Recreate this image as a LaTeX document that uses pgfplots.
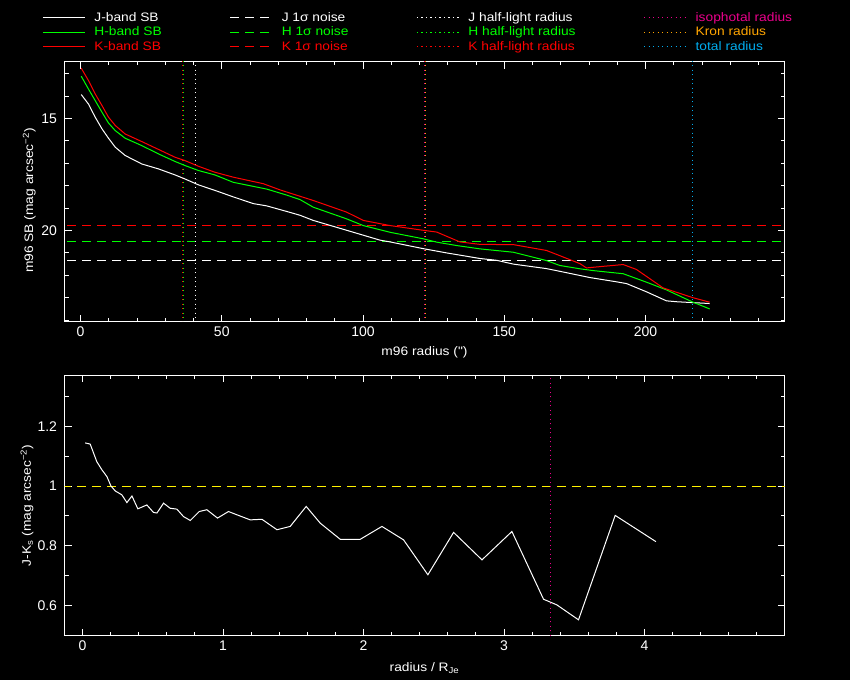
\documentclass[border=0pt]{standalone}
\usepackage{pgfplots}
\pgfplotsset{compat=1.18}
\usepackage{fontspec}
\setmainfont{Liberation Sans}
\newfontfamily\hfont[FakeStretch=1.12]{Liberation Sans}
\definecolor{pgorange}{RGB}{255,165,0}
\tikzset{
  jdash/.style={dash pattern=on 9pt off 6pt},
  jdot/.style={dash pattern=on 1.2pt off 3.3pt},
}
\pgfplotsset{
  pgstyle/.style={
    scale only axis, width=720pt, height=260pt,
    axis line style={white, line width=1pt},
    tick style={white, line width=1pt},
    major tick length=7pt, minor tick length=4pt,
    ticklabel style={white, font=\fontsize{14}{16}\selectfont},
    xticklabel style={yshift=-2pt},
    yticklabel style={xshift=-4pt},
    /pgf/number format/assume math mode=true,
    label style={white, font=\hfont\fontsize{12.3}{14}\selectfont},
    every axis plot/.append style={line width=1pt},
  },
  legend image code/.code={\draw[#1] (0pt,0pt) -- (42pt,0pt);},
}

\begin{document}
\begin{tikzpicture}
\path[use as bounding box, fill=black] (0,0) rectangle (850pt,680pt);

% top panel: surface brightness profiles
\begin{axis}[
    pgstyle,
    at={(64.5pt,358.5pt)}, anchor=south west,
    xmin=-5.664, xmax=249.2,
    ymin=12.455, ymax=24.0625, y dir=reverse,
    xtick={0,50,100,150,200},
    minor xtick={10,20,30,40,60,70,80,90,110,120,130,140,160,170,180,190,210,220,230,240},
    ytick={15,20},
    minor ytick={13,14,16,17,18,19,21,22,23,24},
    xlabel={m96 radius (")},
    ylabel={m96 SB (mag arcsec\textsuperscript{−2})},
    xlabel style={at={(axis description cs:0.5,-0.119)}, anchor=center},
    ylabel style={at={(axis description cs:-0.049,0.465)}, anchor=center},
    legend columns=4,
    legend cell align=left,
    legend style={at={(axis description cs:-0.031,1.197)}, anchor=north west,
        draw=none, fill=none, inner sep=0pt,
        font=\hfont\fontsize{12.3}{14}\selectfont,
        /tikz/every even column/.append style={column sep=66pt},
        /tikz/every odd column/.append style={column sep=7pt},
        row sep=0pt},
]
\addlegendimage{white, line width=1pt}
\addlegendentry{\textcolor{white}{J-band SB}}
\addlegendimage{white, jdash, line width=1pt}
\addlegendentry{\textcolor{white}{J 1σ noise}}
\addlegendimage{white, jdot, line width=1pt}
\addlegendentry{\textcolor{white}{J half-light radius}}
\addlegendimage{magenta, jdot, line width=1pt}
\addlegendentry{\textcolor{magenta}{isophotal radius}}
\addlegendimage{green, line width=1pt}
\addlegendentry{\textcolor{green}{H-band SB}}
\addlegendimage{green, jdash, line width=1pt}
\addlegendentry{\textcolor{green}{H 1σ noise}}
\addlegendimage{green, jdot, line width=1pt}
\addlegendentry{\textcolor{green}{H half-light radius}}
\addlegendimage{pgorange, jdot, line width=1pt}
\addlegendentry{\textcolor{pgorange}{Kron radius}}
\addlegendimage{red, line width=1pt}
\addlegendentry{\textcolor{red}{K-band SB}}
\addlegendimage{red, jdash, line width=1pt}
\addlegendentry{\textcolor{red}{K 1σ noise}}
\addlegendimage{red, jdot, line width=1pt}
\addlegendentry{\textcolor{red}{K half-light radius}}
\addlegendimage{cyan, jdot, line width=1pt}
\addlegendentry{\textcolor{cyan}{total radius}}

% 1 sigma noise levels
\addplot[white, jdash, forget plot] coordinates {(-10,21.339) (260,21.339)};
\addplot[green, jdash, forget plot] coordinates {(-10,20.491) (260,20.491)};
\addplot[red, jdash, forget plot] coordinates {(-10,19.777) (260,19.777)};

% radii
\addplot[white, jdot, forget plot] coordinates {(40.71,10) (40.71,26)};
\addplot[green, jdot, forget plot] coordinates {(36.46,10) (36.46,26)};
\addplot[red, jdot, forget plot] coordinates {(36.11,10) (36.11,26)};
\addplot[magenta, jdot, forget plot] coordinates {(121.77,10) (121.77,26)};
\addplot[pgorange, jdot, forget plot] coordinates {(122.12,10) (122.12,26)};
\addplot[cyan, jdot, forget plot] coordinates {(216.46,10) (216.46,26)};

% J band
\addplot[white, forget plot] coordinates {
(0.25,13.93)(2.8,14.35)(5.2,14.94)(7.6,15.46)(9.9,15.88)(12.3,16.28)
(15.8,16.65)(21.7,17.03)(27.6,17.25)(33.5,17.52)(37.0,17.70)(41.7,17.96)
(47.6,18.21)(54.1,18.50)(61.2,18.80)(65.9,18.90)
(73.0,19.15)(77.7,19.32)(82.4,19.55)(94.2,19.99)(106.0,20.43)(109.6,20.51)
(121.3,20.81)(129.6,21.00)(141.4,21.25)(147.3,21.33)(153.2,21.50)(164.9,21.70)
(169.6,21.82)(180.3,22.10)(189.7,22.29)(193.3,22.37)(200.4,22.74)(207.4,23.14)
(211.0,23.18)(222.7,23.26)};
% H band
\addplot[green, forget plot] coordinates {
(0.25,13.11)(2.8,13.68)(5.2,14.20)(7.6,14.72)(9.9,15.20)(12.3,15.54)
(15.8,15.88)(21.7,16.21)(27.6,16.58)(33.5,16.92)(37.0,17.10)(41.7,17.32)
(47.6,17.52)(54.1,17.85)(65.9,18.15)(73.0,18.42)
(77.7,18.62)(82.4,18.96)(94.2,19.48)(100.1,19.78)(109.6,20.08)(121.3,20.37)
(126.1,20.52)(133.1,20.67)(141.4,20.82)(153.2,20.97)(164.9,21.34)(169.6,21.56)
(176.8,21.71)(181.5,21.79)(192.1,21.93)(200.4,22.31)(207.4,22.65)(216.8,23.20)
(222.7,23.50)};
% K band
\addplot[red, forget plot] coordinates {
(0.25,12.75)(2.8,13.30)(5.2,13.90)(7.6,14.42)(9.9,14.94)(12.3,15.31)
(15.8,15.69)(21.7,16.03)(27.6,16.38)(33.5,16.73)(37.0,16.88)(41.7,17.13)
(47.6,17.40)(54.1,17.62)(64.7,17.91)(70.7,18.19)
(82.4,18.66)(94.2,19.18)(100.1,19.55)(109.6,19.78)(121.3,19.99)(126.1,20.07)
(134.3,20.51)(141.4,20.62)(153.2,20.63)(164.9,20.89)(169.6,21.12)(176.8,21.48)
(179.1,21.67)(185.0,21.60)(192.1,21.52)(196.8,21.74)(206.2,22.56)(216.8,23.00)
(222.7,23.20)};
\end{axis}

% bottom panel: J-Ks colour profile
\begin{axis}[
    pgstyle,
    at={(64.5pt,44.5pt)}, anchor=south west,
    xmin=-0.128, xmax=4.996,
    ymin=0.4994, ymax=1.371,
    xtick={0,1,2,3,4},
    minor xtick={0.2,0.4,0.6,0.8,1.2,1.4,1.6,1.8,2.2,2.4,2.6,2.8,3.2,3.4,3.6,3.8,4.2,4.4,4.6,4.8},
    ytick={0.6,0.8,1,1.2},
    minor ytick={0.7,0.9,1.1,1.3},
    xlabel={radius / R\textsubscript{Je}},
    ylabel={J-K\textsubscript{s} (mag arcsec\textsuperscript{−2})},
    xlabel style={at={(axis description cs:0.5,-0.125)}, anchor=center},
    ylabel style={at={(axis description cs:-0.052,0.5)}, anchor=center},
]
\addplot[yellow, jdash] coordinates {(-1,1) (6,1)};
\addplot[magenta, jdot] coordinates {(3.331,0) (3.331,2)};
\addplot[white] coordinates {
(0.019,1.145)(0.055,1.141)(0.102,1.082)(0.138,1.055)(0.174,1.032)(0.202,1.001)
(0.233,0.984)(0.280,0.971)(0.316,0.945)(0.352,0.967)(0.394,0.924)(0.458,0.937)
(0.505,0.912)(0.530,0.910)(0.577,0.943)(0.624,0.926)(0.672,0.923)(0.719,0.898)
(0.767,0.885)(0.831,0.915)(0.885,0.921)(0.961,0.893)(1.039,0.915)(1.099,0.904)
(1.194,0.887)(1.277,0.889)(1.384,0.854)(1.478,0.865)(1.592,0.932)(1.692,0.876)
(1.834,0.822)(1.977,0.822)(2.131,0.865)(2.285,0.820)(2.458,0.703)(2.641,0.845)
(2.843,0.753)(3.056,0.848)(3.281,0.621)(3.376,0.602)(3.530,0.552)(3.791,0.902)
(4.081,0.814)};
\end{axis}
\end{tikzpicture}
\end{document}
